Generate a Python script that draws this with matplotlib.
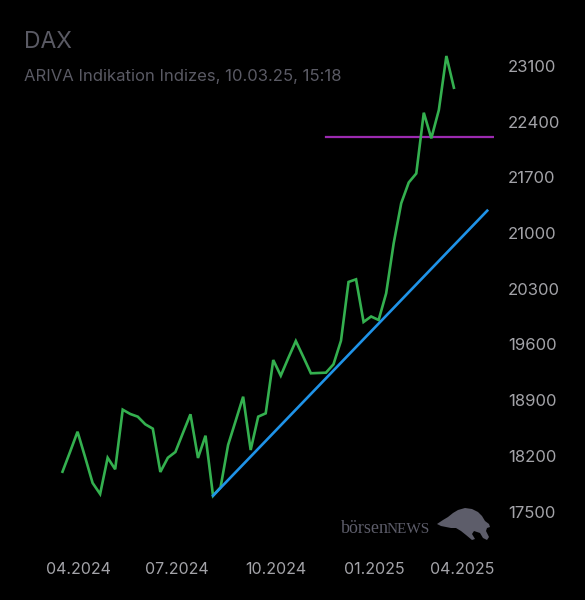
import matplotlib
matplotlib.use("Agg")
import matplotlib.pyplot as plt
import matplotlib.transforms as mtransforms
from matplotlib.patches import Polygon
import pandas as pd

# ---- data ----
dates = pd.date_range("2024-03-11", "2025-03-10", freq="7D")
dax = [18001, 18249, 18504, 18186, 17860, 17721, 18177, 18032, 18781, 18727,
       18693, 18597, 18542, 17998, 18177, 18249, 18488, 18723, 18174, 18454,
       17700, 17805, 18337, 18639, 18944, 18274, 18693, 18735, 19405, 19208,
       19430, 19644, 19443, 19238, 19242, 19246, 19351, 19648, 20386, 20419,
       19883, 19952, 19908, 20243, 20872, 21375, 21636, 21749, 22513, 22191,
       22547, 23226, 22827]

trend_dates = [pd.Timestamp("2024-07-29"), pd.Timestamp("2025-04-10")]
trend_values = [17700, 21282]

resist_dates = [pd.Timestamp("2024-11-11"), pd.Timestamp("2025-04-16")]
resist_values = [22214, 22214]

ytick_values = [17500, 18200, 18900, 19600, 20300, 21000, 21700, 22400, 23100]
xtick_dates = [pd.Timestamp("2024-04-01"), pd.Timestamp("2024-07-01"),
               pd.Timestamp("2024-10-01"), pd.Timestamp("2025-01-01"),
               pd.Timestamp("2025-04-01")]
xtick_labels = ["04.2024", "07.2024", "10.2024", "01.2025", "04.2025"]

title = "DAX"
subtitle = "ARIVA Indikation Indizes, 10.03.25, 15:18"

# ---- figure ----
W, H = 585, 600
fig = plt.figure(figsize=(W / 100, H / 100), dpi=100, facecolor="black")
plt.rcParams["font.family"] = ["Inter", "DejaVu Sans"]

L, R, T, B = 40, 494, 40, 545
ax = fig.add_axes([L / W, 1 - B / H, (R - L) / W, (B - T) / H])
ax.set_facecolor("black")

# x mapping: last point at px 453.9, 1.0753 px/day
last = dates[-1]
ppd = 1.0753
x0 = last + pd.Timedelta(days=(L - 453.9) / ppd)
x1 = last + pd.Timedelta(days=(R - 453.9) / ppd)
ax.set_xlim(x0, x1)
# y mapping
spp = 700 / 55.7
ax.set_ylim(23100 - (B - 66) * spp, 23100 + (66 - T) * spp)

ax.plot(dates, dax, color="#34b04f", lw=1.9, solid_joinstyle="miter", zorder=3)
ax.plot(trend_dates, trend_values, color="#1f93e8", lw=1.9, zorder=4)
ax.plot(resist_dates, resist_values, color="#9b2ab0", lw=1.6, zorder=2)

for s in ax.spines.values():
    s.set_visible(False)

ax.yaxis.tick_right()
ax.set_yticks(ytick_values)
ax.set_yticklabels([str(v) for v in ytick_values])
ax.tick_params(axis="y", length=0, pad=10, labelsize=12, labelcolor="#a3a3a8")
ax.set_xticks([])

blend = mtransforms.blended_transform_factory(ax.transData, ax.transAxes)
shift = mtransforms.ScaledTranslation(-6.5 / 100, 0, fig.dpi_scale_trans)
ylab = -(570 - B) / (B - T)
for d, lab in zip(xtick_dates[:-1], xtick_labels[:-1]):
    ax.text(d, ylab, lab, transform=blend + shift, ha="center", va="center",
            fontsize=11.5, color="#a3a3a8", clip_on=False)
ax.text(1.0, ylab, xtick_labels[-1], transform=ax.transAxes, ha="right",
        va="center", fontsize=11.5, color="#a3a3a8", clip_on=False)

fig.text(24 / W, 1 - 42 / H, title, ha="left", va="center", fontsize=16.5,
         color="#5a5a64")
fig.text(24 / W, 1 - 76 / H, subtitle, ha="left", va="center", fontsize=12,
         color="#5a5a64")

# logo
t1 = fig.text(341 / W, 1 - 533 / H, "börsen", ha="left", va="baseline",
              fontsize=13, color="#5d5d6a", family="Liberation Serif")
fig.canvas.draw()
bb = t1.get_window_extent()
fig.text((bb.x1 - 2.5) / W, 1 - 533 / H, "NEWS", ha="left", va="baseline",
         fontsize=11, color="#5d5d6a", family="Liberation Serif")
bull = [(437, 524), (443, 520), (448, 517), (453, 513), (458, 510), (465, 508),
        (472, 509), (478, 512), (482, 516), (485, 521), (489, 524), (490, 527),
        (487, 528), (486, 531), (489, 537), (487, 540), (483, 538), (480, 533),
        (474, 531), (472, 534), (475, 539), (472, 540), (466, 535), (461, 531),
        (456, 528), (451, 528), (446, 527), (441, 526)]
poly = Polygon([(x / W, 1 - y / H) for x, y in bull], closed=True,
               transform=fig.transFigure, facecolor="#5d5d6a", edgecolor="none")
fig.patches.append(poly)

fig.savefig("out.png", dpi=100, facecolor="black")
